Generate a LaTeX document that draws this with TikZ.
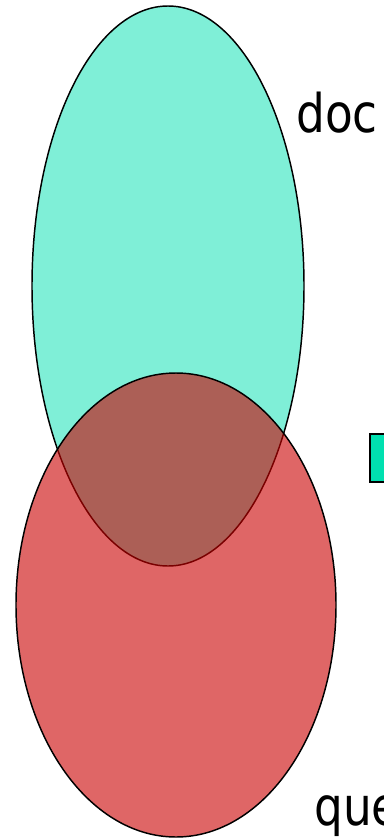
\documentclass[tikz,border=0pt]{standalone}
\usepackage{fontspec}
\newfontfamily\lab[FakeStretch=0.85]{DejaVu Sans}
\definecolor{mint}{RGB}{0,224,176}
\definecolor{redset}{RGB}{203,0,0}
\tikzset{
  setline/.style={draw=black, line width=1.1pt},
  labeltext/.style={anchor=base west, inner sep=0pt, font=\lab\fontsize{40}{48}\selectfont},
}
\begin{document}
\begin{tikzpicture}[x=0.75pt,y=-0.75pt]
\useasboundingbox (0,0) rectangle (384,838);
\clip (0,0) rectangle (384,838);
\fill[white] (0,0) rectangle (384,838);
\path[setline, fill=mint, fill opacity=0.5] (168,286) ellipse [x radius=136, y radius=280];
\path[setline, fill=redset, fill opacity=0.6] (176,605) ellipse [x radius=160, y radius=232];
\node[labeltext] (doc) at (296,133) {doc};
\node[labeltext] (que) at (314,825) {que};
\node[draw=black, line width=1.6pt, fill=mint, minimum width=40pt, minimum height=36pt, inner sep=0pt, anchor=north west] (key) at (369,433) {};
\end{tikzpicture}
\end{document}
